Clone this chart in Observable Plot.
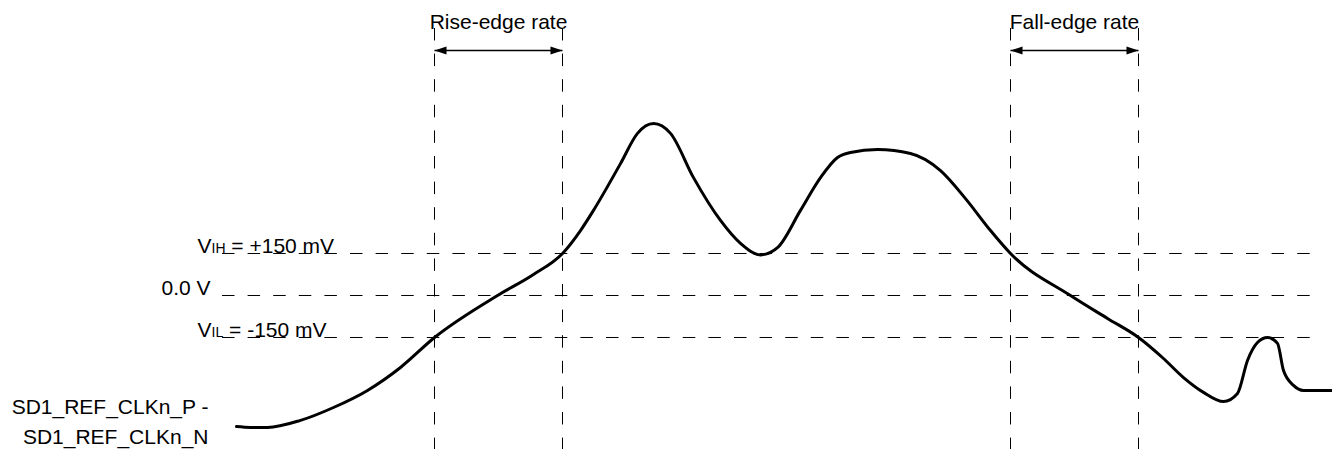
<!DOCTYPE html>
<html>
<head>
<meta charset="utf-8">
<script src="https://cdn.jsdelivr.net/npm/d3@7"></script>
<script src="https://cdn.jsdelivr.net/npm/@observablehq/plot@0.6"></script>
<style>
  html, body { margin: 0; padding: 0; background: #fff; }
  #chart svg { display: block; }
</style>
</head>
<body>
<div id="chart"></div>
<script>
// Waveform: time (arbitrary units) and differential voltage (mV)
const waveT  = [23.6, 25.0, 26.7, 30.0, 33.3, 36.7, 40.0, 43.4, 49.7, 53.3, 56.2, 58.0, 59.3, 62.0, 63.7, 65.3, 67.0, 69.3, 72.0, 74.0, 76.0, 77.7, 80.0, 82.0, 83.7, 85.0, 87.7, 91.0, 94.0, 96.5, 99.0, 101.0, 107.0, 110.7, 113.8, 116.3, 118.3, 120.3, 122.3, 123.7, 124.7, 125.7, 126.7, 127.7, 128.3, 129.3, 130.3, 131.0, 133.2];
const waveMv = [-468, -471, -471, -446, -400, -339, -257, -150, 0, 75, 150, 232, 304, 471, 579, 614, 579, 421, 268, 186, 145, 171, 304, 421, 493, 511, 521, 507, 446, 346, 232, 150, 0, -82, -150, -225, -293, -346, -379, -350, -232, -168, -150, -171, -268, -321, -339, -339, -339];

// Threshold levels (mV) and their labels
const levelMv    = [150, 0, -150];
const levelLabel = ["VIH = +150 mV", "0.0 V", "VIL = -150 mV"];

// Edge-rate measurement windows
const rateLabel = ["Rise-edge rate", "Fall-edge rate"];
const rateStart = [43.4, 101.0];
const rateEnd   = [56.2, 113.8];

// Signal name
const signalLines = ["SD1_REF_CLKn_P -", "SD1_REF_CLKn_N"];

const wave = waveT.map((t, i) => ({t, mv: waveMv[i]}));
const levels = levelMv.map((mv, i) => ({mv, label: levelLabel[i]}));
const rates = rateLabel.map((label, i) => ({label, t0: rateStart[i], t1: rateEnd[i], mid: (rateStart[i] + rateEnd[i]) / 2}));
const edges = rates.flatMap(r => [r.t0, r.t1]);
const signal = signalLines.map((s, i) => ({s, i}));

const arrowY = 875;
const triangleRight = {
  draw(ctx) { ctx.moveTo(0, 0); ctx.lineTo(-12, -4); ctx.lineTo(-12, 4); ctx.closePath(); }
};
const dash = "12.5,13.1";
const font = "'Liberation Sans', Arial, Helvetica, sans-serif";

const plot = Plot.plot({
  width: 1332,
  height: 449,
  margin: 0,
  x: {domain: [0, 133.2], axis: null},
  y: {domain: [-550, 1053.57], axis: null},
  style: {fontFamily: font, fontSize: "21px", color: "black", background: "white"},
  marks: [
    Plot.ruleY(levels, {y: "mv", x1: 22.2, x2: 131.0, stroke: "black", strokeWidth: 1, strokeDasharray: dash}),
    Plot.ruleX(edges, {x: d => d, insetTop: 28, stroke: "black", strokeWidth: 1, strokeDasharray: dash}),
    Plot.link(rates, {x1: "t0", x2: "t1", y1: () => arrowY, y2: () => arrowY, stroke: "black", strokeWidth: 1.3}),
    Plot.dot(rates, {x: "t1", y: () => arrowY, symbol: triangleRight, fill: "black", stroke: "none"}),
    Plot.dot(rates, {x: "t0", y: () => arrowY, symbol: triangleRight, rotate: 180, fill: "black", stroke: "none"}),
    Plot.text(rates, {x: "mid", text: "label", frameAnchor: "top", dy: 28, lineAnchor: "bottom", fontSize: 21}),
    Plot.line(wave, {x: "t", y: "mv", curve: "monotone-x", stroke: "black", strokeWidth: 3, strokeLinejoin: "round", strokeLinecap: "round"}),
    Plot.text(levels.filter(d => d.mv !== 0), {x: 19.7, y: "mv", text: "label", textAnchor: "start", lineAnchor: "bottom", fontSize: 21, className: "thr"}),
    Plot.text(levels.filter(d => d.mv === 0), {x: 21.0, y: "mv", text: "label", textAnchor: "end", lineAnchor: "bottom", fontSize: 21}),
    Plot.text(signal, {x: 20.8, frameAnchor: "bottom", text: "s", textAnchor: "end", lineAnchor: "bottom", fontSize: 21, className: "sig"})
  ]
});

// two signal-name lines, baselines 30px apart
plot.querySelectorAll(".sig text").forEach((t, i) => {
  t.setAttribute("dy", i === 0 ? "-36" : "-6");
});

// subscripts for VIH / VIL
const ns = "http://www.w3.org/2000/svg";
plot.querySelectorAll(".thr text").forEach(t => {
  const m = t.textContent.match(/^V(IH|IL)(.*)$/);
  if (!m) return;
  t.textContent = "V";
  const sub = document.createElementNS(ns, "tspan");
  sub.setAttribute("font-size", "14");
  sub.textContent = m[1];
  const rest = document.createElementNS(ns, "tspan");
  rest.setAttribute("font-size", "21");
  rest.textContent = m[2];
  t.appendChild(sub);
  t.appendChild(rest);
});

document.getElementById("chart").appendChild(plot);
</script>
</body>
</html>
